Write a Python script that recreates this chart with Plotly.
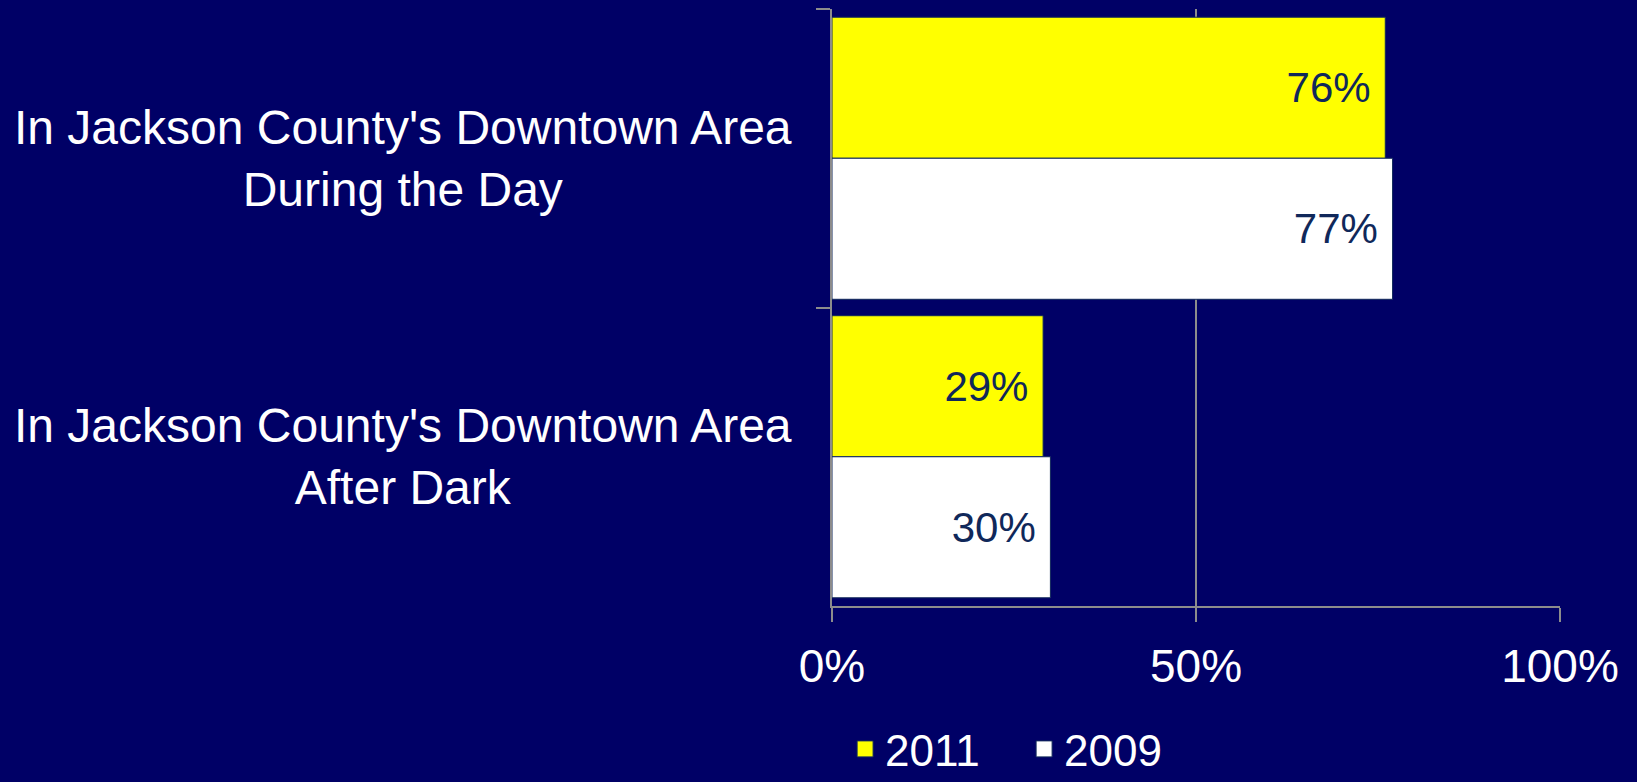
import plotly.graph_objects as go

# Survey categories (top to bottom) and the share feeling safe, in percent
categories = [
    "In Jackson County's Downtown Area<br>During the Day",
    "In Jackson County's Downtown Area<br>After Dark",
]
years = ["2011", "2009"]
values_2011 = [76, 29]
values_2009 = [77, 30]
x_ticks = [0, 50, 100]

BG = "#000066"
GRID = "#8c8c8c"
LABEL_DARK = "#10285a"
FONT = "Liberation Sans, Arial, sans-serif"

series = [
    (years[0], values_2011, "#ffff00"),
    (years[1], values_2009, "#ffffff"),
]

fig = go.Figure()
for name, vals, color in series:
    fig.add_trace(go.Bar(
        name=name,
        y=categories,
        x=vals,
        orientation="h",
        marker=dict(color=color, line=dict(color=LABEL_DARK, width=1)),
        text=[f"{v}%\u00a0" for v in vals],
        textposition="inside",
        insidetextanchor="end",
        textfont=dict(family=FONT, size=42, color=LABEL_DARK),
        hoverinfo="skip",
        showlegend=False,
        legendgroup=name,
    ))

# Legend entries with larger square swatches
for name, _, color in series:
    fig.add_trace(go.Scatter(
        name=name, x=[None], y=[None], mode="markers",
        marker=dict(symbol="square", size=20, color=color,
                    line=dict(color=LABEL_DARK, width=1)),
        legendgroup=name, hoverinfo="skip",
    ))

# Centred, two-line category labels to the left of the plot
for cat in categories:
    fig.add_annotation(
        x=-0.589, xref="paper", xanchor="center",
        y=cat, yref="y", yanchor="middle",
        text=cat, showarrow=False, align="center",
        font=dict(family=FONT, size=48, color="white"),
    )

fig.update_layout(
    width=1637, height=782,
    paper_bgcolor=BG, plot_bgcolor=BG,
    margin=dict(l=832, r=77, t=9, b=176, autoexpand=False),
    barmode="group", bargap=0.055, bargroupgap=0,
    font=dict(family=FONT, color="white"),
    showlegend=True,
    legend=dict(
        orientation="h", x=0.018, xanchor="left",
        y=-0.240, yanchor="middle",
        entrywidth=134, entrywidthmode="pixels",
        font=dict(family=FONT, size=44, color="white"),
        bgcolor="rgba(0,0,0,0)",
    ),
)
fig.update_xaxes(
    range=[0, 100], tickvals=x_ticks, ticktext=[f"{t}%" for t in x_ticks],
    showgrid=True, gridcolor=GRID, gridwidth=2,
    showline=True, linecolor=GRID, linewidth=2,
    ticks="outside", ticklen=14, tickwidth=2, tickcolor=GRID,
    ticklabelstandoff=5,
    zeroline=False,
    tickfont=dict(family=FONT, size=46, color="white"),
    fixedrange=True,
)
fig.update_yaxes(
    autorange="reversed",
    showticklabels=False, showgrid=False,
    showline=True, linecolor=GRID, linewidth=2,
    ticks="outside", tickson="boundaries", ticklen=14, tickwidth=2, tickcolor=GRID,
    zeroline=False, fixedrange=True,
)

fig.write_html("out.html", config={"displayModeBar": False})
